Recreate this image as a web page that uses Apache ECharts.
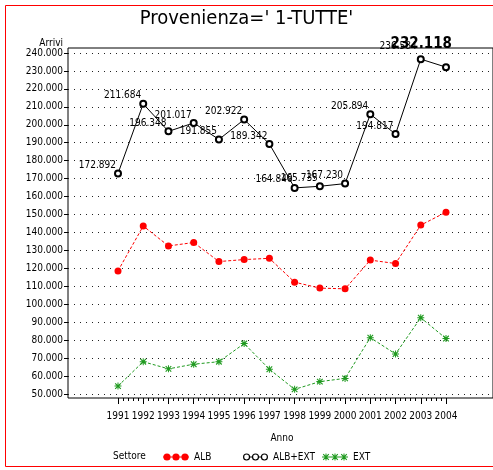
<!DOCTYPE html>
<html><head><meta charset="utf-8">
<script src="https://cdn.jsdelivr.net/npm/echarts@6/dist/echarts.min.js"></script>
<style>html,body{margin:0;padding:0;background:#fff}#c{width:493px;height:470px}</style>
</head><body><div id="c"></div>
<script>
const years = [1991,1992,1993,1994,1995,1996,1997,1998,1999,2000,2001,2002,2003,2004];
const alb   = [118600,143600,132500,134400,123800,124900,125600,112300,109000,108600,124600,122700,144100,151300];
const total = [172892,211684,196348,201017,191855,202922,189342,164840,165735,167230,205894,194817,236584,232118];
const ext   = [54400,68000,64000,66600,68000,78100,63800,52600,56900,58700,81400,72300,92500,80900];
const yTicks = {min:50000, max:240000, step:10000};
const seriesNames = ['ALB','ALB+EXT','EXT'];

const fmt = v => String(Math.round(v)).replace(/\B(?=(\d{3})+(?!\d))/g, '.');
const NARROW = "'Liberation Sans Narrow','DejaVu Sans Condensed',sans-serif";

function circ(cx, r, cw){
  const s = cw ? 1 : 0;
  return `M${cx-r},4 A${r},${r} 0 1,${s} ${cx+r},4 A${r},${r} 0 1,${s} ${cx-r},4 Z `;
}
function rect(x0,y0,x1,y1){ return `M${x0},${y0} L${x1},${y0} L${x1},${y1} L${x0},${y1} Z `; }
function star(cx){
  return rect(cx-0.5,0.5,cx+0.5,7.5) + rect(cx-3.5,3.5,cx+3.5,4.5) +
    `M${cx-3.2},1.6 L${cx-2.4},0.8 L${cx+3.2},6.4 L${cx+2.4},7.2 Z ` +
    `M${cx-3.2},6.4 L${cx+2.4},0.8 L${cx+3.2},1.6 L${cx-2.4},7.2 Z `;
}
const iconALB = 'path://' + rect(0,3.5,26,4.5) + circ(4,3.6,true) + circ(13,3.6,true) + circ(22,3.6,true);
const iconTOT = 'path://' + [4,13,22].map(c => circ(c,3.6,true) + circ(c,2.4,false)).join('') + rect(7.3,3.5,9.7,4.5) + rect(16.3,3.5,18.7,4.5);
const iconEXT = 'path://' + rect(0,3.5,26,4.5) + star(4) + star(13) + star(22);
const symStar = 'path://' + star(4);

const RED = '#ff0000', GREEN = '#1f9a1f', BLACK = '#000';

const totalData = years.map((y,i) => {
  const d = {value:[y, total[i]]};
  if (i === years.length-1) d.label = {fontSize:15, fontWeight:'bold', offset:[10,-23]};
  if (i === years.length-2) d.label = {offset:[0,-13]};
  return d;
});

const axisFont = {fontFamily:NARROW, fontSize:10, fontWeight:'normal', color:'#000'};

const chart = echarts.init(document.getElementById('c'), null, {renderer:'canvas'});
chart.setOption({
  animation:false,
  backgroundColor:'#fff',
  graphic:[{type:'rect', shape:{x:5.5,y:5.5,width:520,height:461}, style:{fill:null, stroke:RED, lineWidth:1}}],
  title:[
    {text:"Provenienza=' 1-TUTTE'", left:'center', top:9, padding:[0,0,0,7],
     textStyle:{fontFamily:NARROW, fontSize:20, fontWeight:'normal', color:'#000'}},
    {text:'Settore', left:113, top:451, padding:0, textStyle:axisFont}
  ],
  legend:[
    {data:[{name:'ALB', icon:iconALB, itemStyle:{color:RED, borderWidth:0}}], left:163, top:452, padding:0, itemWidth:26, itemHeight:8, selectedMode:false, textStyle:axisFont},
    {data:[{name:'ALB+EXT', icon:iconTOT, itemStyle:{color:BLACK, borderWidth:0}}], left:243, top:452, padding:0, itemWidth:25, itemHeight:8, selectedMode:false, textStyle:axisFont},
    {data:[{name:'EXT', icon:iconEXT, itemStyle:{color:GREEN, borderWidth:0}}], left:322, top:452, padding:0, itemWidth:26, itemHeight:8, selectedMode:false, textStyle:axisFont}
  ],
  grid:[
    {left:68, right:-30, top:48, bottom:72, show:true, borderColor:'#000', borderWidth:1, backgroundColor:'transparent'},
    {left:68, right:-30, top:53, bottom:76},
    {left:118, right:47, top:53, bottom:76}
  ],
  xAxis:[
    {gridIndex:0, type:'value', min:0, max:1, show:false},
    {gridIndex:1, type:'value', min:0, max:1, show:false},
    {gridIndex:2, type:'value', min:years[0], max:years[years.length-1], interval:1, offset:4,
     axisLine:{show:false},
     axisTick:{show:true, length:6, lineStyle:{color:'#000'}},
     minorTick:{show:true, splitNumber:5, length:3, lineStyle:{color:'#000'}},
     splitLine:{show:false},
     axisLabel:Object.assign({margin:13, showMinLabel:true, showMaxLabel:true, hideOverlap:false, formatter:v => String(v)}, axisFont),
     name:'Anno', nameLocation:'middle', nameGap:35, nameTextStyle:axisFont}
  ],
  yAxis:[
    {gridIndex:0, type:'value', min:0, max:1, show:false},
    {gridIndex:1, type:'value', min:yTicks.min, max:yTicks.max, interval:yTicks.step,
     axisLine:{show:false},
     axisTick:{show:true, length:4, lineStyle:{color:'#000'}},
     splitLine:{show:true, lineStyle:{type:[1,5], color:'#222', width:1}},
     axisLabel:Object.assign({margin:5, formatter:fmt}, axisFont),
     name:'Arrivi', nameLocation:'end', nameGap:4,
     nameTextStyle:Object.assign({align:'right', padding:[0,5,0,0]}, axisFont)},
    {gridIndex:2, type:'value', min:yTicks.min, max:yTicks.max, show:false}
  ],
  series:[
    {name:seriesNames[0], type:'line', xAxisIndex:2, yAxisIndex:2,
     data:years.map((y,i)=>[y, alb[i]]),
     symbol:'circle', symbolSize:7, itemStyle:{color:RED},
     lineStyle:{color:RED, width:1, type:[3,2]}},
    {name:seriesNames[1], type:'line', xAxisIndex:2, yAxisIndex:2,
     data:totalData,
     symbol:'emptyCircle', symbolSize:6, itemStyle:{color:BLACK, borderWidth:1},
     lineStyle:{color:BLACK, width:1},
     label:{show:true, position:'left', distance:0, offset:[2,-8], formatter:p => fmt(p.value[1]),
            fontFamily:NARROW, fontSize:10, color:'#000'}},
    {name:seriesNames[2], type:'line', xAxisIndex:2, yAxisIndex:2,
     data:years.map((y,i)=>[y, ext[i]]),
     symbol:symStar, symbolSize:7, itemStyle:{color:GREEN, borderWidth:0},
     lineStyle:{color:GREEN, width:1, type:[3,2]}}
  ]
});
</script>
</body></html>
